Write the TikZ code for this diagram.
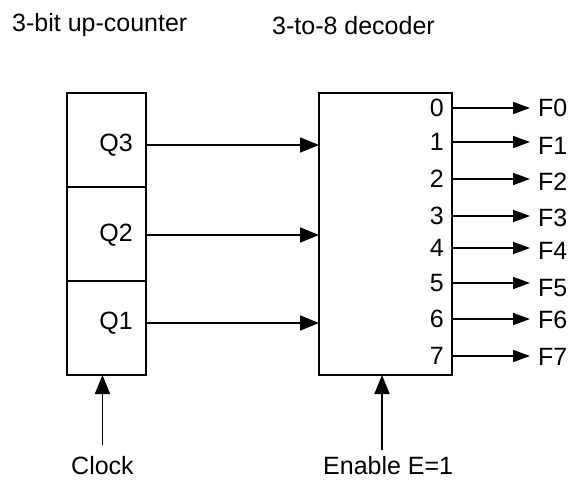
\documentclass[tikz,border=0pt]{standalone}
\usepackage{fontspec}
\setmainfont{Liberation Sans}
\usetikzlibrary{arrows.meta,positioning}
\tikzset{
  cell/.style={draw,line width=1.6pt,minimum width=79pt,minimum height=94pt,
    inner sep=0pt,outer sep=0pt},
  decbox/.style={draw,line width=1.6pt,minimum width=133pt,minimum height=282pt,
    inner sep=0pt,outer sep=0pt},
  txt/.style={font=\fontsize{25}{30}\selectfont,inner sep=0pt},
  sig/.style={-{Triangle[length=19pt,width=15pt]},line width=1.6pt},
  outsig/.style={sig,-{Triangle[length=17pt,width=12pt]}}
}

\begin{document}
\begin{tikzpicture}[x=1pt,y=1pt]
  \useasboundingbox (0,0) rectangle (572,479);
  \node[txt,anchor=base west] (ttlc) at (12,447) {3-bit up-counter};
  \node[txt,anchor=base west] (ttld) at (272,444) {3-to-8 decoder};
  \node[cell,anchor=north west] (c3) at (67,386) {};
  \node[cell,below=0pt of c3] (c2) {};
  \node[cell,below=0pt of c2] (c1) {};
  \node[decbox,right=173pt of c2] (dec) {};
  \node[txt,anchor=east] (q3) at ([xshift=-13pt,yshift=-5pt]c3.east) {Q3};
  \node[txt,anchor=east] (q2) at ([xshift=-13pt,yshift=-1pt]c2.east) {Q2};
  \node[txt,anchor=east] (q1) at ([xshift=-13pt,yshift=5pt]c1.east) {Q1};
  \draw[sig] (c3.east |- q3) -- (dec.west |- q3);
  \draw[sig] (c2.east |- q2) -- (dec.west |- q2);
  \draw[sig] (c1.east |- q1) -- (dec.west |- q1);
  \foreach \i/\y/\d in {0/371/0,1/337/3.5,2/300/2.7,3/263/1.8,4/231/3.4,5/196/4.7,6/160/1,7/123/0.7}{
    \node[txt,anchor=east] (n\i) at (444,\y) {\i};
    \coordinate (o\i) at (530,\y);
    \node[txt,anchor=west] (f\i) at ([xshift=8pt,yshift=-\d pt]o\i) {F\i};
    \draw[outsig] (n\i -| dec.east) -- (o\i);
  }
  \node[txt,anchor=base west] (clk) at (71,4.5) {Clock};
  \node[txt,anchor=base west] (en) at (323,4.5) {Enable E=1};
  \coordinate (ein) at ([xshift=-3.5pt]dec.south);
  \draw[sig] ([yshift=11pt]clk.north) -- (clk.north |- c1.south);
  \draw[sig] ([yshift=6pt]en.north -| ein) -- (ein);
\end{tikzpicture}
\end{document}
